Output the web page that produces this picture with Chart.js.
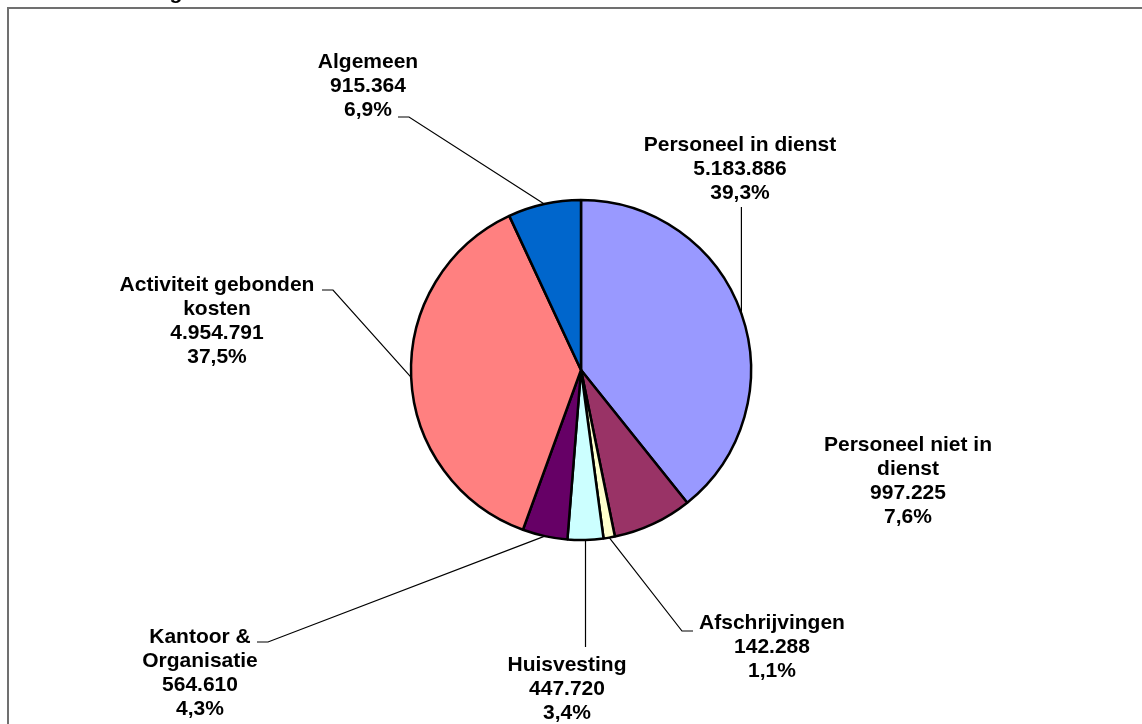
<!DOCTYPE html>
<html>
<head>
<meta charset="utf-8">
<script src="https://cdn.jsdelivr.net/npm/chart.js@4/dist/chart.umd.min.js"></script>
<style>
  html, body { margin: 0; padding: 0; background: #fff; overflow: hidden; }
  #wrap { width: 1142px; height: 724px; position: relative; }
</style>
</head>
<body>
<div id="wrap"><canvas id="costChart"></canvas></div>
<script>
/* Cost breakdown pie, Excel-style labels with leader lines */
const categories = [
  'Personeel in dienst',
  'Personeel niet in dienst',
  'Afschrijvingen',
  'Huisvesting',
  'Kantoor & Organisatie',
  'Activiteit gebonden kosten',
  'Algemeen',
];
const amounts = [5183886, 997225, 142288, 447720, 564610, 4954791, 915364];
const sliceColors = ['#9999FF', '#993366', '#FFFFCC', '#CCFFFF', '#660066', '#FF8080', '#0066CC'];

// label layout: wrapped lines, text centre, first line y, leader elbow points
const labelLayout = [
  { lines: ['Personeel in dienst'], x: 740, y: 145, leader: 'vertical', endY: 207 },
  { lines: ['Personeel niet in', 'dienst'], x: 908, y: 445, leader: null },
  { lines: ['Afschrijvingen'], x: 772, y: 623, leader: [[682, 631], [693, 631]] },
  { lines: ['Huisvesting'], x: 567, y: 665, leader: 'vertical', endY: 647 },
  { lines: ['Kantoor &', 'Organisatie'], x: 200, y: 637, leader: [[268, 642], [257, 642]] },
  { lines: ['Activiteit gebonden', 'kosten'], x: 217, y: 285, leader: [[333, 290], [322, 290]] },
  { lines: ['Algemeen'], x: 368, y: 62, leader: [[409, 117], [398, 117]] },
];

const FONT = 'bold 21px "Liberation Sans", Arial, sans-serif';
const LINE_H = 24;

function fmtThousands(n) {
  return String(n).replace(/\B(?=(\d{3})+(?!\d))/g, '.');
}
function fmtPct(v) {
  return v.toFixed(1).replace('.', ',') + '%';
}

const frameAndLabels = {
  id: 'frameAndLabels',
  beforeDraw(chart) {
    const ctx = chart.ctx;
    ctx.save();
    ctx.strokeStyle = '#707070';
    ctx.lineWidth = 2;
    ctx.strokeRect(8, 8, 1300, 900);
    // descender of the clipped title above the frame
    ctx.fillStyle = '#000';
    ctx.font = FONT;
    ctx.textAlign = 'center';
    ctx.textBaseline = 'alphabetic';
    ctx.fillText('g', 176, -1);
    ctx.restore();
  },
  afterDatasetsDraw(chart) {
    const ctx = chart.ctx;
    const meta = chart.getDatasetMeta(0);
    const total = amounts.reduce((a, b) => a + b, 0);
    ctx.save();
    ctx.strokeStyle = '#000';
    ctx.lineWidth = 1.2;
    meta.data.forEach((arc, i) => {
      const lay = labelLayout[i];
      const mid = (arc.startAngle + arc.endAngle) / 2;
      const ax = arc.x + Math.cos(mid) * arc.outerRadius;
      const ay = arc.y + Math.sin(mid) * arc.outerRadius;
      if (lay.leader === 'vertical') {
        ctx.beginPath();
        ctx.moveTo(ax, ay);
        ctx.lineTo(ax, lay.endY);
        ctx.stroke();
      } else if (lay.leader) {
        ctx.beginPath();
        ctx.moveTo(ax, ay);
        lay.leader.forEach(p => ctx.lineTo(p[0], p[1]));
        ctx.stroke();
      }
      const lines = lay.lines.concat([fmtThousands(amounts[i]), fmtPct(amounts[i] / total * 100)]);
      ctx.fillStyle = '#000';
      ctx.font = FONT;
      ctx.textAlign = 'center';
      ctx.textBaseline = 'middle';
      lines.forEach((t, k) => ctx.fillText(t, lay.x, lay.y + k * LINE_H));
    });
    ctx.restore();
  },
};

new Chart(document.getElementById('costChart'), {
  type: 'pie',
  data: {
    labels: categories,
    datasets: [{
      data: amounts,
      backgroundColor: sliceColors,
      borderColor: '#000',
      borderWidth: 2.5,
    }],
  },
  options: {
    responsive: true,
    maintainAspectRatio: false,
    animation: false,
    radius: 170,
    layout: { padding: { left: 20, top: 16, right: 0, bottom: 0 } },
    plugins: {
      legend: { display: false },
      tooltip: { enabled: false },
    },
  },
  plugins: [frameAndLabels],
});
</script>
</body>
</html>
